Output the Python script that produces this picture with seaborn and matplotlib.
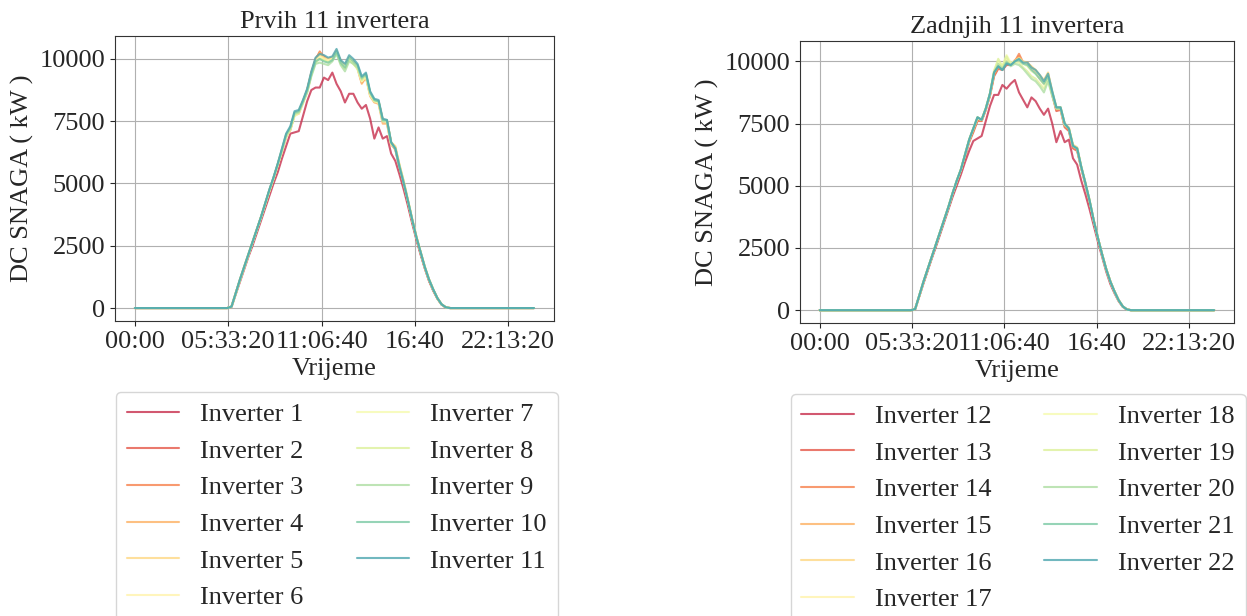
import numpy as np
import seaborn as sns
import matplotlib.pyplot as plt
from matplotlib.ticker import FuncFormatter, MultipleLocator

# uzorci svakih 15 min (u sekundama od ponoci), noću je snaga 0
slot_seconds = 900
n_slots = 96
first_day_slot = 23  # 05:45, prvi uzorak gdje snaga krene rasti

# DC snaga (kW) od 05:45 do 18:45, po invertru
inv_1 = [50, 550, 1050, 1550, 2050, 2500, 3000, 3500, 4000, 4500, 5000, 5450, 6000, 6500, 7000, 7050, 7100, 7700,
         8300, 8750, 8850, 8850, 9250, 9150, 9450, 9000, 8700, 8250, 8600, 8600, 8250, 8000, 8150, 7600, 6800, 7250,
         6800, 6900, 6200, 5900, 5350, 4750, 4100, 3400, 2750, 2150, 1600, 1100, 700, 380, 140, 25, 0]
inv_2 = [55, 580, 1120, 1620, 2120, 2620, 3120, 3620, 4150, 4700, 5200, 5750, 6300, 6900, 7200, 7800, 7850, 8300,
         8750, 9450, 10000, 10250, 10100, 10000, 10050, 10300, 9900, 9700, 10050, 9900, 9700, 9150, 9350, 8600, 8300,
         8250, 7500, 7450, 6600, 6350, 5600, 4950, 4250, 3500, 2800, 2200, 1600, 1100, 720, 380, 140, 28, 0]
inv_3 = [60, 600, 1130, 1640, 2140, 2640, 3140, 3640, 4180, 4720, 5220, 5760, 6320, 6900, 7150, 7750, 7800, 8250,
         8700, 9400, 9950, 10300, 10050, 9950, 10000, 10250, 9850, 9650, 10000, 9850, 9650, 9050, 9300, 8550, 8300,
         8300, 7550, 7500, 6650, 6450, 5700, 5050, 4300, 3550, 2850, 2250, 1650, 1150, 750, 400, 150, 30, 0]
inv_4 = [55, 590, 1120, 1630, 2130, 2630, 3130, 3630, 4160, 4700, 5200, 5740, 6300, 6850, 7150, 7750, 7850, 8250,
         8700, 9400, 9950, 10250, 10000, 9950, 10000, 10300, 9850, 9700, 10050, 9850, 9600, 9000, 9250, 8500, 8250,
         8200, 7400, 7400, 6550, 6400, 5650, 5000, 4300, 3550, 2850, 2250, 1650, 1150, 740, 390, 145, 28, 0]
inv_5 = [60, 600, 1140, 1650, 2150, 2650, 3150, 3650, 4180, 4720, 5230, 5780, 6350, 6950, 7200, 7800, 7900, 8300,
         8750, 9450, 9950, 10150, 10050, 10000, 10050, 10350, 9900, 9750, 10100, 9900, 9700, 9150, 9350, 8600, 8350,
         8300, 7550, 7550, 6650, 6500, 5750, 5100, 4350, 3600, 2900, 2250, 1650, 1150, 750, 400, 150, 30, 0]
inv_6 = [58, 590, 1130, 1640, 2140, 2640, 3140, 3640, 4170, 4710, 5210, 5760, 6330, 6900, 7200, 7750, 7850, 8250,
         8700, 9400, 9900, 10100, 10000, 9950, 10000, 10300, 9850, 9700, 10050, 9850, 9650, 9100, 9300, 8550, 8300,
         8250, 7500, 7500, 6600, 6400, 5700, 5050, 4300, 3550, 2850, 2250, 1650, 1150, 750, 400, 150, 30, 0]
inv_7 = [55, 580, 1120, 1620, 2120, 2620, 3120, 3620, 4150, 4680, 5180, 5720, 6280, 6850, 7150, 7700, 7800, 8200,
         8650, 9350, 9850, 10050, 9950, 9900, 9950, 10250, 9800, 9650, 10000, 9800, 9600, 9100, 9300, 8550, 8300,
         8250, 7500, 7450, 6600, 6400, 5650, 5000, 4300, 3550, 2850, 2250, 1650, 1150, 740, 390, 145, 28, 0]
inv_8 = [58, 590, 1130, 1630, 2130, 2630, 3130, 3630, 4160, 4700, 5200, 5750, 6300, 6900, 7200, 7750, 7850, 8250,
         8700, 9350, 9850, 10000, 9950, 9850, 9950, 10250, 9800, 9600, 9950, 9800, 9600, 9150, 9350, 8600, 8300,
         8300, 7550, 7500, 6600, 6400, 5700, 5050, 4300, 3550, 2850, 2250, 1650, 1150, 750, 400, 150, 30, 0]
inv_9 = [57, 590, 1130, 1640, 2140, 2640, 3140, 3640, 4180, 4720, 5220, 5760, 6330, 6900, 7200, 7800, 7850, 8250,
         8650, 9300, 9800, 9850, 9800, 9750, 9900, 10200, 9750, 9500, 9900, 9800, 9650, 9200, 9400, 8650, 8350,
         8300, 7500, 7500, 6650, 6400, 5700, 5050, 4300, 3550, 2850, 2250, 1650, 1150, 750, 400, 150, 30, 0]
inv_10 = [60, 600, 1140, 1650, 2150, 2650, 3150, 3650, 4190, 4740, 5240, 5780, 6380, 6980, 7250, 7850, 7900, 8300,
          8750, 9400, 9900, 10000, 9900, 9850, 9950, 10300, 9850, 9650, 10050, 9900, 9750, 9250, 9400, 8650, 8350,
          8300, 7550, 7550, 6650, 6400, 5650, 5000, 4300, 3550, 2850, 2250, 1650, 1150, 750, 400, 150, 30, 0]
inv_11 = [60, 600, 1150, 1650, 2150, 2650, 3150, 3650, 4200, 4750, 5250, 5800, 6400, 7000, 7300, 7900, 7950, 8350,
          8800, 9500, 10050, 10200, 10150, 10050, 10100, 10400, 9950, 9800, 10150, 10000, 9800, 9300, 9450, 8700, 8400,
          8350, 7600, 7550, 6650, 6400, 5650, 5000, 4300, 3550, 2850, 2250, 1650, 1150, 750, 400, 150, 30, 0]

inv_12 = [45, 560, 1080, 1580, 2080, 2550, 3050, 3550, 4050, 4550, 5000, 5450, 5950, 6400, 6800, 6900, 7000, 7600,
          8200, 8650, 8650, 9050, 8900, 9100, 9250, 8750, 8450, 8150, 8550, 8400, 8100, 7850, 8100, 7500, 6750, 7200,
          6750, 6850, 6100, 5850, 5200, 4650, 4050, 3400, 2750, 2150, 1550, 1050, 680, 360, 130, 25, 0]
inv_13 = [50, 580, 1120, 1620, 2120, 2620, 3120, 3620, 4120, 4650, 5150, 5600, 6150, 6750, 7150, 7600, 7600, 8050,
          8600, 9400, 9700, 9650, 9850, 9850, 10000, 10200, 9950, 9900, 9700, 9550, 9300, 9100, 9400, 8650, 8000,
          8050, 7350, 7200, 6500, 6400, 5700, 5050, 4350, 3600, 2900, 2250, 1650, 1150, 750, 400, 150, 30, 0]
inv_14 = [50, 590, 1130, 1630, 2130, 2630, 3130, 3630, 4130, 4680, 5170, 5620, 6200, 6800, 7200, 7650, 7600, 8050,
          8650, 9450, 9750, 9700, 9900, 9850, 10000, 10300, 9950, 9950, 9750, 9600, 9350, 9150, 9450, 8700, 8050,
          8100, 7400, 7250, 6550, 6450, 5700, 5050, 4350, 3600, 2900, 2250, 1650, 1150, 750, 400, 150, 30, 0]
inv_15 = [50, 590, 1130, 1640, 2140, 2640, 3140, 3640, 4140, 4690, 5180, 5640, 6230, 6830, 7250, 7700, 7650, 8100,
          8650, 9500, 9800, 9700, 9950, 9850, 10050, 10150, 9950, 9950, 9750, 9650, 9400, 9200, 9500, 8750, 8100,
          8150, 7450, 7300, 6600, 6500, 5750, 5100, 4400, 3600, 2900, 2250, 1650, 1150, 750, 400, 150, 30, 0]
inv_16 = [50, 600, 1140, 1650, 2150, 2650, 3150, 3650, 4150, 4700, 5190, 5650, 6250, 6850, 7300, 7700, 7650, 8100,
          8700, 9550, 9850, 9700, 10000, 9900, 10000, 10150, 10000, 9950, 9800, 9650, 9450, 9250, 9550, 8800, 8150,
          8150, 7500, 7350, 6650, 6550, 5750, 5100, 4400, 3600, 2900, 2250, 1650, 1150, 750, 400, 150, 30, 0]
inv_17 = [50, 600, 1140, 1640, 2140, 2640, 3140, 3640, 4140, 4690, 5180, 5640, 6240, 6850, 7300, 7700, 7650, 8100,
          8700, 9600, 9900, 9750, 10100, 9900, 10000, 10100, 9950, 9900, 9700, 9600, 9400, 9150, 9450, 8750, 8150,
          8150, 7500, 7300, 6600, 6500, 5750, 5100, 4400, 3600, 2900, 2250, 1650, 1150, 750, 400, 150, 30, 0]
inv_18 = [50, 600, 1150, 1650, 2150, 2650, 3150, 3650, 4150, 4700, 5200, 5650, 6250, 6850, 7300, 7750, 7650, 8100,
          8700, 9650, 10000, 9800, 10250, 9950, 10000, 10050, 9900, 9800, 9600, 9500, 9300, 9050, 9400, 8700, 8150,
          8150, 7450, 7300, 6600, 6500, 5750, 5100, 4400, 3600, 2900, 2250, 1650, 1150, 750, 400, 150, 30, 0]
inv_19 = [50, 600, 1150, 1650, 2150, 2650, 3150, 3650, 4150, 4700, 5200, 5650, 6250, 6850, 7300, 7750, 7650, 8100,
          8700, 9600, 10100, 9800, 10200, 9850, 9950, 9950, 9750, 9600, 9400, 9300, 9100, 8900, 9250, 8650, 8100,
          8100, 7450, 7300, 6600, 6500, 5750, 5100, 4400, 3600, 2900, 2250, 1650, 1150, 750, 400, 150, 30, 0]
inv_20 = [50, 600, 1150, 1650, 2150, 2650, 3150, 3650, 4150, 4700, 5200, 5650, 6250, 6850, 7300, 7750, 7650, 8100,
          8700, 9550, 9900, 9700, 10000, 9800, 9900, 9850, 9700, 9500, 9300, 9200, 9000, 8750, 9200, 8600, 8100,
          8100, 7450, 7300, 6600, 6500, 5750, 5100, 4400, 3600, 2900, 2250, 1650, 1150, 750, 400, 150, 30, 0]
inv_21 = [50, 600, 1150, 1650, 2150, 2650, 3150, 3650, 4150, 4700, 5200, 5650, 6250, 6850, 7300, 7750, 7650, 8100,
          8700, 9550, 9800, 9650, 9950, 9850, 10000, 10050, 9900, 9850, 9650, 9500, 9300, 9100, 9400, 8750, 8150,
          8150, 7500, 7300, 6600, 6500, 5750, 5100, 4400, 3600, 2900, 2250, 1650, 1150, 750, 400, 150, 30, 0]
inv_22 = [50, 600, 1150, 1650, 2150, 2650, 3150, 3650, 4150, 4700, 5200, 5650, 6250, 6850, 7300, 7750, 7650, 8100,
          8700, 9550, 9800, 9650, 9900, 9850, 10000, 10100, 9950, 9950, 9750, 9650, 9450, 9200, 9500, 8800, 8150,
          8150, 7500, 7300, 6600, 6500, 5750, 5100, 4400, 3600, 2900, 2250, 1650, 1150, 750, 400, 150, 30, 0]

first_group = [inv_1, inv_2, inv_3, inv_4, inv_5, inv_6, inv_7, inv_8, inv_9, inv_10, inv_11]
last_group = [inv_12, inv_13, inv_14, inv_15, inv_16, inv_17, inv_18, inv_19, inv_20, inv_21, inv_22]
first_names = [f"Inverter {i}" for i in range(1, 12)]
last_names = [f"Inverter {i}" for i in range(12, 23)]


def full_day(day_values):
    """Dopuni dnevne vrijednosti nulama za noćne sate."""
    tail = n_slots - first_day_slot - len(day_values)
    return np.array([0] * first_day_slot + list(day_values) + [0] * tail)


def time_label(sec, pos):
    sec = int(round(sec))
    h, m, s = sec // 3600, (sec % 3600) // 60, sec % 60
    if s == 0:
        return f"{h:02d}:{m:02d}"
    return f"{h:02d}:{m:02d}:{s:02d}"


def plot_group(fig, ax, group, names, title, legend_xy):
    time_s = np.arange(n_slots) * slot_seconds
    colors = sns.color_palette("Spectral", 12)[:11]
    for vals, name, col in zip(group, names, colors):
        sns.lineplot(x=time_s, y=full_day(vals), color=col, alpha=0.8, linewidth=1.5, label=name, ax=ax)

    ax.set_title(title)
    ax.set_xlabel("Vrijeme")
    ax.set_ylabel("DC SNAGA ( kW )")
    ax.xaxis.set_major_locator(MultipleLocator(20000))
    ax.xaxis.set_major_formatter(FuncFormatter(time_label))
    ax.yaxis.set_major_locator(MultipleLocator(2500))
    ax.grid(True, color="#b0b0b0", linewidth=0.8)
    for sp in ax.spines.values():
        sp.set_color("#333333")
    ax.legend(ncol=2, loc="upper left", bbox_to_anchor=legend_xy, bbox_transform=fig.transFigure,
              borderaxespad=0, labelspacing=0.5, frameon=True)


sns.set_style("ticks")
plt.rcParams["font.family"] = ["Liberation Serif", "DejaVu Serif"]
plt.rcParams["font.size"] = 19
plt.rcParams["axes.titlesize"] = 19
plt.rcParams["axes.labelsize"] = 19
plt.rcParams["xtick.labelsize"] = 19
plt.rcParams["ytick.labelsize"] = 19
plt.rcParams["legend.fontsize"] = 19

fig = plt.figure(figsize=(12.47, 6.16), dpi=100)
ax1 = fig.add_axes([0.0922, 0.4789, 0.3520, 0.4627])
ax2 = fig.add_axes([0.6415, 0.4756, 0.3480, 0.4578])

plot_group(fig, ax1, first_group, first_names, "Prvih 11 invertera", (0.0930, 0.3636))
plot_group(fig, ax2, last_group, last_names, "Zadnjih 11 invertera", (0.6340, 0.3604))

fig.savefig("out.png", dpi=100)
